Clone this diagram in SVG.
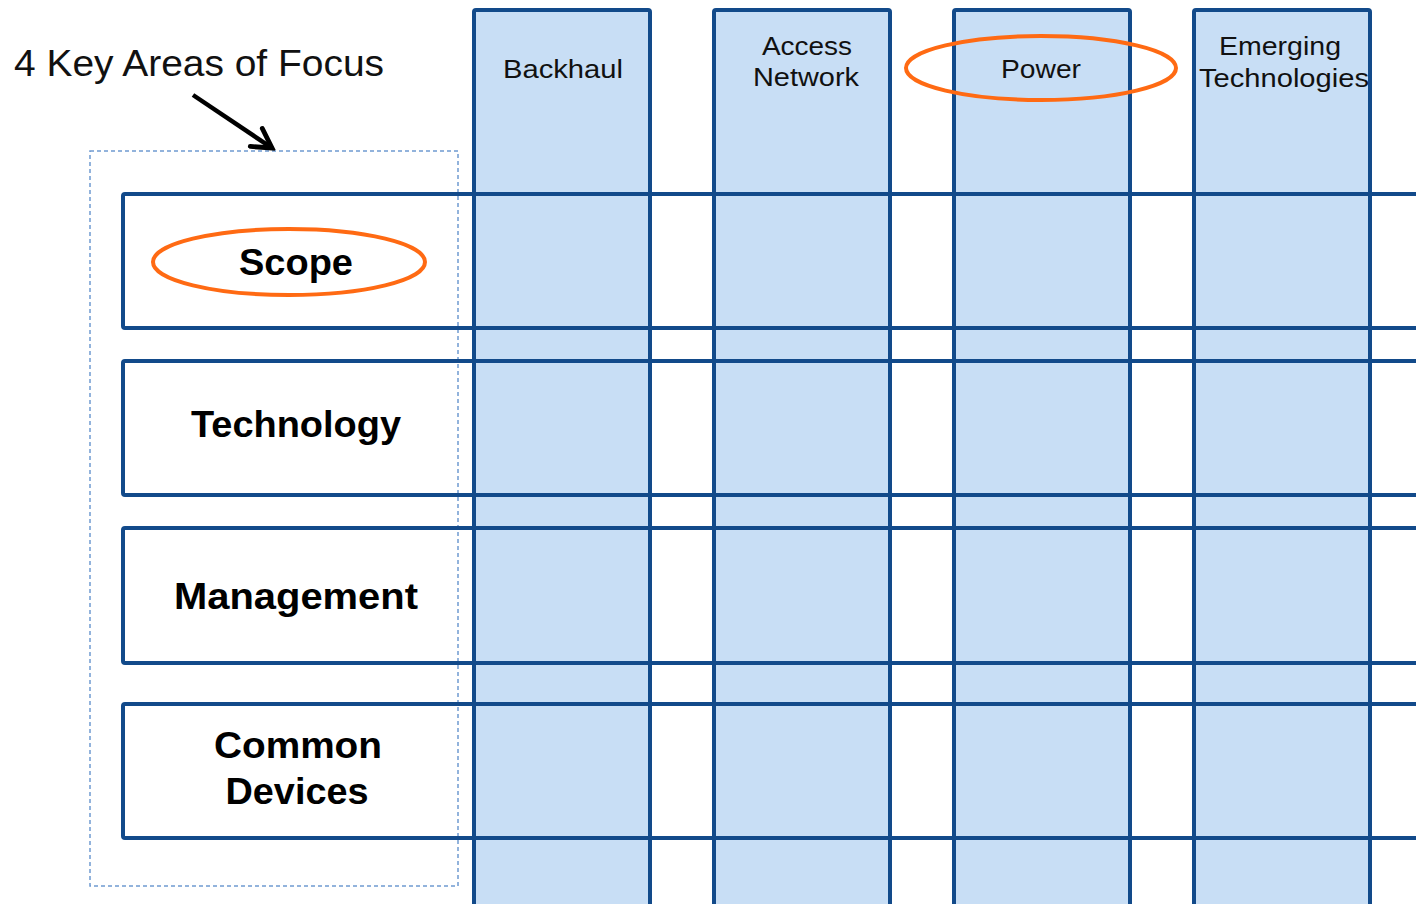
<svg xmlns="http://www.w3.org/2000/svg" width="1416" height="904" viewBox="0 0 1416 904">
  <style>
    .col { fill: #C8DEF5; stroke: #124A8A; stroke-width: 4; }
    .row { fill: none; stroke: #124A8A; stroke-width: 4; }
    .hdr { font-family: "Liberation Sans", Arial, sans-serif; font-size: 26px; fill: #111; text-anchor: middle; }
    .lbl { font-family: "Liberation Sans", Arial, sans-serif; font-size: 36px; font-weight: bold; fill: #000; text-anchor: middle; }
    .ring { fill: none; stroke: #FF6A13; stroke-width: 4; }
  </style>
  <defs>
    <marker id="head" viewBox="0 0 10 10" refX="8.5" refY="5" markerWidth="6" markerHeight="6" orient="auto" markerUnits="strokeWidth">
      <path d="M1.5,1 L8.5,5 L1.5,9" fill="none" stroke="#000" stroke-width="1.8" stroke-linecap="round" stroke-linejoin="miter"/>
    </marker>
  </defs>
  <rect width="1416" height="904" fill="#fff"/>

  <!-- title and pointer -->
  <g id="title">
    <text x="14" y="76" font-family="Liberation Sans, Arial, sans-serif" font-size="36" fill="#111" textLength="370" lengthAdjust="spacingAndGlyphs">4 Key Areas of Focus</text>
  </g>

  <!-- dashed grouping frame -->
  <g id="frame">
    <rect x="90" y="151" width="368" height="735" fill="none" stroke="#6F9BD1" stroke-width="1.5" stroke-dasharray="4 3"/>
  </g>

  <!-- vertical columns -->
  <g id="col-backhaul">
    <rect class="col" x="474" y="10" width="176" height="904" rx="2"/>
    <text class="hdr" x="563" y="78" textLength="120" lengthAdjust="spacingAndGlyphs">Backhaul</text>
  </g>
  <g id="col-access">
    <rect class="col" x="714" y="10" width="176" height="904" rx="2"/>
    <text class="hdr" x="807" y="55" textLength="90" lengthAdjust="spacingAndGlyphs">Access</text>
    <text class="hdr" x="806" y="86" textLength="106" lengthAdjust="spacingAndGlyphs">Network</text>
  </g>
  <g id="col-power">
    <rect class="col" x="954" y="10" width="176" height="904" rx="2"/>
    <text class="hdr" x="1041" y="78" textLength="80" lengthAdjust="spacingAndGlyphs">Power</text>
  </g>
  <g id="col-emerging">
    <rect class="col" x="1194" y="10" width="176" height="904" rx="2"/>
    <text class="hdr" x="1280" y="55" textLength="122" lengthAdjust="spacingAndGlyphs">Emerging</text>
    <text class="hdr" x="1284" y="87" textLength="170" lengthAdjust="spacingAndGlyphs">Technologies</text>
  </g>

  <!-- horizontal rows -->
  <g id="row-scope">
    <rect class="row" x="123" y="194" width="1320" height="134" rx="2"/>
    <text class="lbl" x="296" y="275" textLength="114" lengthAdjust="spacingAndGlyphs">Scope</text>
  </g>
  <g id="row-technology">
    <rect class="row" x="123" y="361" width="1320" height="134" rx="2"/>
    <text class="lbl" x="296" y="437" textLength="210" lengthAdjust="spacingAndGlyphs">Technology</text>
  </g>
  <g id="row-management">
    <rect class="row" x="123" y="528" width="1320" height="135" rx="2"/>
    <text class="lbl" x="296" y="609" textLength="244" lengthAdjust="spacingAndGlyphs">Management</text>
  </g>
  <g id="row-devices">
    <rect class="row" x="123" y="704" width="1320" height="134" rx="2"/>
    <text class="lbl" x="298" y="758" textLength="168" lengthAdjust="spacingAndGlyphs">Common</text>
    <text class="lbl" x="297" y="804" textLength="143" lengthAdjust="spacingAndGlyphs">Devices</text>
  </g>

  <!-- highlight rings -->
  <g id="ring-scope">
    <ellipse class="ring" cx="289" cy="262" rx="136" ry="33"/>
  </g>
  <g id="ring-power">
    <ellipse class="ring" cx="1041" cy="68" rx="135" ry="32"/>
  </g>

  <g id="connectors">
    <line x1="193" y1="95" x2="272" y2="148" stroke="#000" stroke-width="4.5" marker-end="url(#head)"/>
  </g>
</svg>
